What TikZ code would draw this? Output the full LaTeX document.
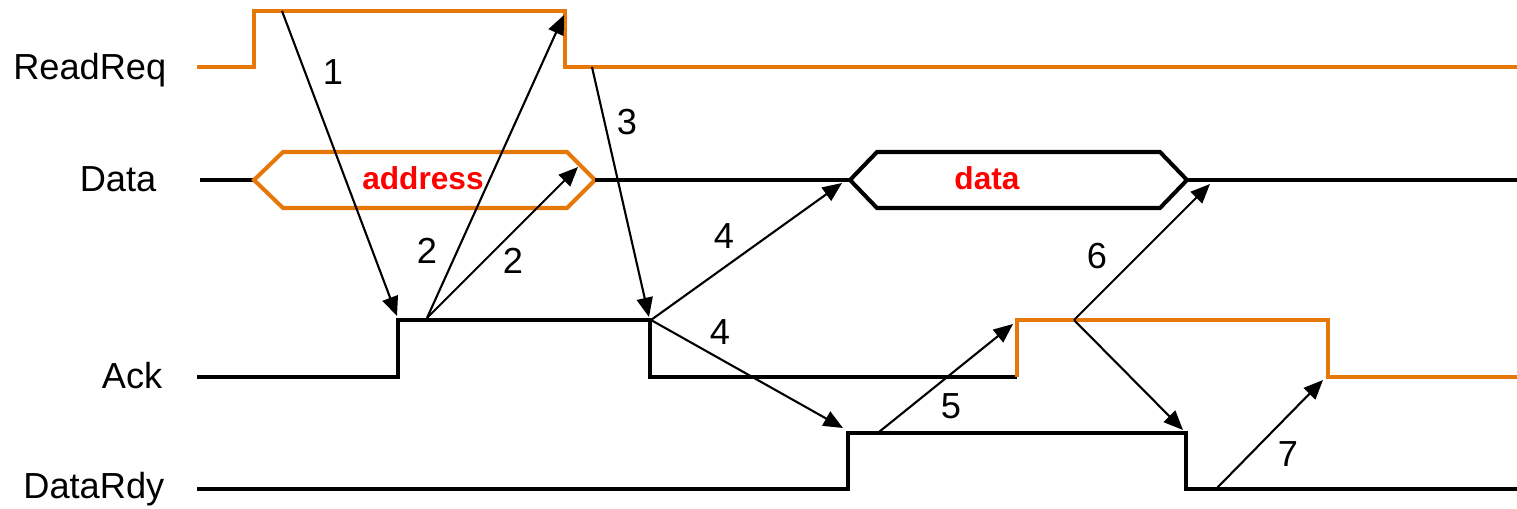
\documentclass[tikz,border=0pt]{standalone}
\usepackage{fontspec}
\setmainfont{Liberation Sans}
\usetikzlibrary{arrows.meta}
\definecolor{sigorange}{RGB}{230,120,10}
\tikzset{
  signame/.style={anchor=base east,inner sep=0pt,font=\fontsize{10.3}{12}\selectfont},
  stepnum/.style={inner sep=0pt,font=\fontsize{10.3}{12}\selectfont},
  busname/.style={inner sep=0pt,text=red,font=\fontsize{9}{11}\selectfont\bfseries},
  wave/.style={line width=1.15pt,line join=miter},
  cause/.style={line width=0.6pt}
}

\begin{document}
\begin{tikzpicture}[x=0.01cm,y=-0.01cm,>={Triangle[length=5.5pt,width=4.6pt]}]
    \useasboundingbox (0,0) rectangle (1517,509);
    % signal names
    \node[signame] (readreq) at (167,79) {ReadReq};
    \node[signame] (data) at (157,191) {Data};
    \node[signame] (ack) at (163,388) {Ack};
    \node[signame] (datardy) at (165,498) {DataRdy};
    % waveforms
    \draw[wave,sigorange] (197,67) -- (254,67) -- (254,11) -- (565,11) -- (565,67) -- (1517,67);
    \draw[wave] (200,180) -- (254,180);
    \draw[wave,sigorange] (254,180) -- (283,152) -- (567,152) -- (595,180) -- (567,208) -- (283,208) -- cycle;
    \draw[wave] (595,180) -- (850,180);
    \draw[wave] (850,180) -- (877,152) -- (1160,152) -- (1187,180) -- (1160,208) -- (877,208) -- cycle;
    \draw[wave] (1187,180) -- (1517,180);
    \draw[wave] (197,377) -- (398,377) -- (398,320) -- (650,320) -- (650,377) -- (1017,377);
    \draw[wave,sigorange] (1017,377) -- (1017,320) -- (1328,320) -- (1328,377) -- (1517,377);
    \draw[wave] (197,489) -- (848,489) -- (848,433) -- (1186,433) -- (1186,489) -- (1517,489);
    \node[busname] (address) at (423,178) {address};
    \node[busname] (value) at (987,178) {data};
    % arrow ends
    \coordinate (s1) at (282,11);
    \coordinate (t1) at (397,316);
    \coordinate (s2) at (427,318);
    \coordinate (t2a) at (564,15);
    \coordinate (t2b) at (578,167);
    \coordinate (s3) at (592,67);
    \coordinate (t3) at (649,317);
    \coordinate (s4) at (651,320);
    \coordinate (t4a) at (842,183);
    \coordinate (t4b) at (843,428);
    \coordinate (s5) at (879,432);
    \coordinate (t5) at (1013,324);
    \coordinate (s6) at (1074,320);
    \coordinate (t6a) at (1210,184);
    \coordinate (t6b) at (1183,430);
    \coordinate (s7) at (1217,488);
    \coordinate (t7) at (1323,380);
    \path[->,cause] (s1) edge (t1);
    \path[->,cause] (s2) edge (t2a);
    \path[->,cause] (s2) edge (t2b);
    \path[->,cause] (s3) edge (t3);
    \path[->,cause] (s4) edge (t4a);
    \path[->,cause] (s4) edge (t4b);
    \path[->,cause] (s5) edge (t5);
    \path[->,cause] (s6) edge (t6a);
    \path[->,cause] (s6) edge (t6b);
    \path[->,cause] (s7) edge (t7);
    % step numbers
    \node[stepnum] (n1) at (333,72) {1};
    \node[stepnum] (n2a) at (427,251) {2};
    \node[stepnum] (n2b) at (513,261) {2};
    \node[stepnum] (n3) at (627,122) {3};
    \node[stepnum] (n4a) at (724,236) {4};
    \node[stepnum] (n4b) at (720,332) {4};
    \node[stepnum] (n5) at (951,406) {5};
    \node[stepnum] (n6) at (1097,256) {6};
    \node[stepnum] (n7) at (1288,454) {7};
\end{tikzpicture}
\end{document}
